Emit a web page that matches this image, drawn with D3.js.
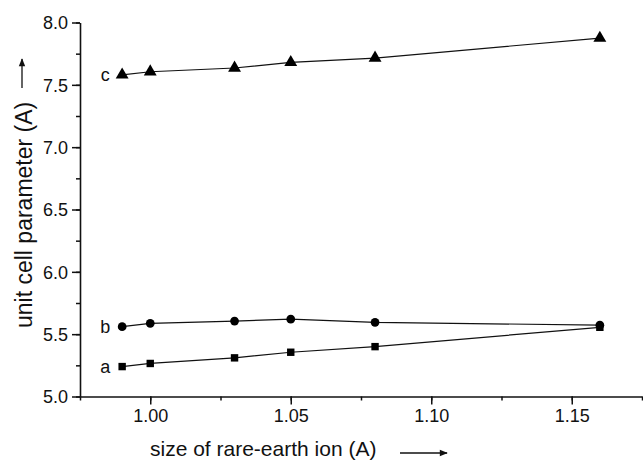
<!DOCTYPE html>
<html lang="en">
  <head>
    <meta charset="UTF-8" />
    <title>unit cell parameter</title>
    <script src="https://cdn.jsdelivr.net/npm/d3@7"></script>
    <style>
      body { margin: 0; background: #fff; }
      text { font-family: "Liberation Sans", Arial, sans-serif; fill: #111; }
    </style>
  </head>
  <body>
    <svg width="643" height="465"></svg>
    <script>
      // ionic size (A) and lattice parameters a, b, c (A)
      const ionSize = [0.99, 1.0, 1.03, 1.05, 1.08, 1.16];
      const paramA = [5.24, 5.265, 5.31, 5.355, 5.4, 5.555];
      const paramB = [5.56, 5.587, 5.605, 5.62, 5.595, 5.572];
      const paramC = [7.58, 7.605, 7.635, 7.68, 7.715, 7.875];
      const xTicks = [1.0, 1.05, 1.1, 1.15];
      const yTicks = [5.0, 5.5, 6.0, 6.5, 7.0, 7.5, 8.0];

      const svg = d3.select("svg");
      const x = d3.scaleLinear().domain([0.975, 1.175]).range([80, 642]);
      const y = d3.scaleLinear().domain([5.0, 8.0]).range([396.5, 22.5]);

      // minor ticks
      svg.append("g")
        .attr("transform", "translate(0,396.5)")
        .call(d3.axisBottom(x).tickValues(d3.range(0, 9).map(i => 0.975 + i * 0.025)).tickSize(4).tickFormat(""))
        .call(g => g.select(".domain").remove());
      svg.append("g")
        .attr("transform", "translate(80,0)")
        .call(d3.axisLeft(y).tickValues(d3.range(0, 13).map(i => 5 + i * 0.25)).tickSize(4).tickFormat(""))
        .call(g => g.select(".domain").remove());

      // major ticks + labels
      const xAxis = svg.append("g")
        .attr("transform", "translate(0,396.5)")
        .call(d3.axisBottom(x).tickValues(xTicks).tickSize(8).tickSizeOuter(0).tickPadding(5).tickFormat(d3.format(".2f")));
      const yAxis = svg.append("g")
        .attr("transform", "translate(80,0)")
        .call(d3.axisLeft(y).tickValues(yTicks).tickSize(8).tickSizeOuter(0).tickPadding(4).tickFormat(d3.format(".1f")));

      svg.selectAll(".tick line").attr("stroke", "#111").attr("stroke-width", 1.5);
      svg.selectAll(".domain").attr("stroke", "#111").attr("stroke-width", 1.6);
      xAxis.selectAll("text").style("font-size", "18px");
      yAxis.selectAll("text").style("font-size", "18px").attr("dy", "0.36em");

      // series
      const series = [
        { name: "a", vals: paramA, shape: d3.symbolSquare, size: 55 },
        { name: "b", vals: paramB, shape: d3.symbolCircle, size: 60 },
        { name: "c", vals: paramC, shape: d3.symbolTriangle, size: 72 }
      ];
      const line = d3.line().x(d => x(d[0])).y(d => y(d[1]));

      series.forEach(s => {
        const pts = ionSize.map((v, i) => [v, s.vals[i]]);
        svg.append("path")
          .attr("d", line(pts))
          .attr("fill", "none")
          .attr("stroke", "#111")
          .attr("stroke-width", 1.2);
        svg.selectAll(null)
          .data(pts)
          .enter()
          .append("path")
          .attr("d", d3.symbol().type(s.shape).size(s.size))
          .attr("transform", d => `translate(${x(d[0])},${y(d[1])})`)
          .attr("fill", "#000");
        svg.append("text")
          .attr("x", x(ionSize[0]) - 17)
          .attr("y", y(s.vals[0]) + 6)
          .attr("text-anchor", "middle")
          .style("font-size", "18px")
          .text(s.name);
      });

      // axis titles with arrows
      svg.append("defs").append("marker")
        .attr("id", "head")
        .attr("viewBox", "0 0 10 10")
        .attr("refX", 9).attr("refY", 5)
        .attr("markerWidth", 9).attr("markerHeight", 8)
        .attr("markerUnits", "userSpaceOnUse")
        .attr("orient", "auto")
        .append("path").attr("d", "M0,1L10,5L0,9z").attr("fill", "#111");

      svg.append("text")
        .attr("x", 150).attr("y", 456)
        .style("font-size", "21px")
        .text("size of rare-earth ion (A)");
      svg.append("line")
        .attr("x1", 400).attr("y1", 453).attr("x2", 447).attr("y2", 453)
        .attr("stroke", "#111").attr("stroke-width", 1.3)
        .attr("marker-end", "url(#head)");

      svg.append("text")
        .attr("transform", "translate(32,328) rotate(-90)")
        .style("font-size", "23px")
        .text("unit cell parameter (A)");
      svg.append("line")
        .attr("x1", 22).attr("y1", 88).attr("x2", 22).attr("y2", 59)
        .attr("stroke", "#111").attr("stroke-width", 1.3)
        .attr("marker-end", "url(#head)");
    </script>
  </body>
</html>
